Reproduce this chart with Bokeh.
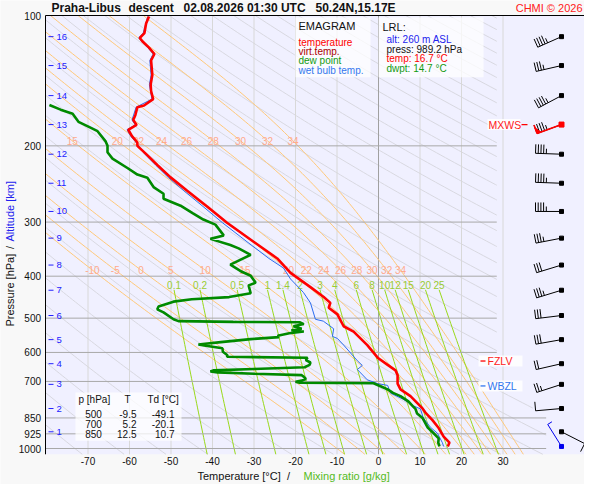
import numpy as np
from bokeh.plotting import figure
from bokeh.models import Range1d, ColumnDataSource
from bokeh.core.properties import value
from bokeh.embed import file_html
from bokeh.resources import INLINE

# ---------------- data ----------------
temperature = [(100.5, -55.3), (104.4, -56.0), (109.8, -56.4), (112.7, -57.5), (114.7, -56.9), (118.6, -55.3),
               (122.7, -54.0), (127.0, -54.8), (137.2, -54.5), (144.4, -54.9), (149.4, -54.8), (156.0, -54.3),
               (161.4, -56.5), (162.8, -58.1), (169.9, -58.6), (174.3, -59.1), (178.9, -58.3), (183.6, -60.3),
               (190.0, -59.4), (196.5, -58.1), (200.0, -58.1), (208.5, -56.1), (221.5, -53.3), (236.5, -50.1),
               (254.0, -46.1), (276.0, -41.3), (301.0, -36.5), (333.0, -30.1), (364.0, -24.4), (393.0, -21.2),
               (403.0, -19.6), (424.0, -16.4), (447.0, -13.2), (461.0, -11.6), (473.0, -12.0), (490.0, -9.9),
               (522.0, -8.4), (537.0, -6.0), (577.0, -2.7), (617.0, -0.2), (641.0, 2.2), (660.0, 4.1),
               (677.0, 4.6), (708.0, 4.6), (730.0, 5.3), (757.0, 7.7), (808.0, 10.6), (826.0, 11.3),
               (860.0, 13.0), (897.0, 14.5), (939.0, 15.7), (969.0, 17.1), (989.2, 16.7)]

dewpoint = [(161, -79.3), (165, -76.6), (168.7, -73.7), (176, -72.3), (180.6, -69.9), (185, -67.7), (195, -65.8),
            (200, -65.3), (207, -65.3), (214, -64.1), (225, -60.5), (233, -58.1), (237, -55.7), (249, -54.2),
            (258, -51.8), (265, -51.8), (275, -47.7), (286, -44.8), (296, -42.2), (304, -39.3), (322, -37.3),
            (328, -40.5), (339, -35.7), (345, -33.7), (357, -30.8), (376, -35.7), (389, -33.3), (399, -30.8),
            (414, -29.6), (420, -31.3), (438, -30.8), (447, -36.0), (452, -45.0), (458, -49.4), (470, -53.0),
            (477, -53.3), (485, -51.8), (503, -49.4), (508, -48.2), (510, -35.0), (511, -19.0), (516, -18.0),
            (522, -20.5), (529, -18.5), (533, -21.0), (537, -18.0), (542, -21.5), (549, -24.3), (553, -24.0),
            (559, -30.8), (568, -38.0), (575, -43.4), (578, -42.0), (587, -37.6), (598, -37.5), (609, -36.4),
            (614, -36.5), (617, -17.1), (625, -17.5), (633, -16.4), (641, -16.6), (649, -17.8), (655, -30.0),
            (660, -39.8), (664, -40.5), (667, -38.8), (672, -30.0), (677, -18.5), (683, -18.0), (691, -17.5),
            (697, -18.5), (701, -20.0), (705, -19.0), (706, -10.0), (707, -1.2), (718, 0.5), (730, 2.2),
            (744, 3.5), (757, 5.3), (778, 7.2), (797, 8.2), (810, 8.9), (830, 9.3), (850, 10.6), (893, 11.8),
            (922, 13.3), (948, 14.5), (970, 14.4), (989.2, 14.7)]

wetbulb = [(100.5, -55.6), (109.8, -56.7), (112.7, -57.8), (118.6, -55.6), (122.7, -54.3), (127.0, -55.1),
           (137.2, -54.8), (144.4, -55.2), (156.0, -54.6), (162.8, -58.4), (174.3, -59.4), (178.9, -58.6),
           (183.6, -60.6), (190.0, -59.7), (196.5, -58.4), (208.5, -56.4), (221.5, -53.7), (236.5, -50.7),
           (254.0, -46.9), (276.0, -42.3), (301.0, -37.6), (333.0, -31.7), (364.0, -26.4), (383.0, -22.9),
           (406.0, -21.2), (436.0, -18.1), (461.0, -16.4), (503.0, -15.2), (508.0, -13.3), (529.0, -10.8),
           (551.0, -11.1), (557.0, -9.9), (577.0, -8.4), (627.0, -5.1), (643.0, -3.9), (657.0, -5.1),
           (694.0, -2.7), (708.0, -0.2), (715.0, 2.2), (745.0, 2.9), (770.0, 6.0), (797.0, 8.4),
           (810.0, 10.1), (850.0, 10.8), (893.0, 12.5), (922.0, 14.2), (970.0, 15.4), (989.2, 15.7)]

p_ticks = [100, 200, 300, 400, 500, 600, 700, 850, 925, 1000]
isobars = [200, 300, 400, 500, 600, 700, 850, 925, 1000]
t_ticks = [-70, -60, -50, -40, -30, -20, -10, 0, 10, 20, 30]
dry_theta_K = [190 + 10 * i for i in range(45)]
moist_thw = [-10, -5, 0, 5, 10, 15, 20, 22, 24, 26, 28, 30, 32, 34]
moist_thw_upper = [15, 20, 22, 24, 26, 28, 30, 32, 34]
mixing_ratios = [0.1, 0.2, 0.5, 1, 1.4, 2, 3, 4, 6, 8, 10, 12, 15, 20, 25]

alt_km = [16, 15, 14, 13, 12, 11, 10, 9, 8, 7, 6, 5, 4, 3, 2, 1]
alt_p = [111.9, 130.5, 153.1, 178.6, 209.1, 244.0, 283.5, 326.7, 377.0, 431.0, 493.0, 560.5, 637.0, 711.0, 808.5, 915.0]
wind_dir = [246, 257, 242, 250, 272, 272, 270, 259, 253, 253, 263, 260, 257, 252, 265, 117]
wind_spd = [45, 35, 45, 45, 45, 45, 45, 35, 30, 35, 30, 30, 20, 25, 10, 10]
sfc_wind = (989.2, 328, 5)
mxws_km = 13
fzlv_p = 628.0
wbzl_p = 717.0

table_p = [500, 700, 850]
table_t = [-9.5, 5.2, 12.5]
table_td = [-49.1, -20.1, 10.7]
lrl_alt_m, lrl_p, lrl_t, lrl_td = 260, 989.2, 16.7, 14.7
title_parts = ["Praha-Libus", "descent", "02.08.2026 01:30 UTC", "50.24N,15.17E"]

# ---------------- layout helpers ----------------
FONT = "Liberation Sans"
W, H = 584, 484
XS = 4.15            # px per degree C
PPD = 433.0          # px per decade of pressure (in this figure)
Y0 = 15.0            # figure pixel row of 100 hPa


def rx(px):  # reference pixel column -> temperature
    return (px - 378.0) / 4.15


def ry(py):  # reference pixel row -> pressure
    return 100.0 * 10 ** ((py - 15.0) / 449.0)


def fy(fig_y):  # pixel row of this figure -> pressure
    return 100.0 * 10 ** ((fig_y - Y0) / PPD)


x_lo, x_hi = rx(45), rx(591)
p_top, p_bot = 100.0, ry(470)


def tmax(p):
    p = np.asarray(p, dtype=float)
    f = np.clip(np.log(p / 700.0) / np.log(850.0 / 700.0), 0, 1)
    return 28.5 + (40.4 - 28.5) * f


def clip_runs(xs, ps):
    xs = np.asarray(xs, float); ps = np.asarray(ps, float)
    hi = tmax(ps)
    d_lo = xs - x_lo          # must be >= 0
    d_hi = hi - xs            # must be >= 0
    inside = (d_lo >= 0) & (d_hi >= 0)

    def cross(a, b):
        o = b if not inside[b] else a
        d = d_lo if d_lo[o] < 0 else d_hi
        t = d[a] / (d[a] - d[b]) if d[a] != d[b] else 0.0
        return xs[a] + t * (xs[b] - xs[a]), ps[a] * (ps[b] / ps[a]) ** t

    out, cx, cp = [], [], []
    for i in range(len(xs)):
        if inside[i]:
            if not cx and i > 0:
                bx, bp = cross(i - 1, i); cx.append(bx); cp.append(bp)
            cx.append(xs[i]); cp.append(ps[i])
        else:
            if cx:
                bx, bp = cross(i - 1, i); cx.append(bx); cp.append(bp)
                if len(cx) > 1:
                    out.append(([float(v) for v in cx], [float(v) for v in cp]))
                cx, cp = [], []
    if len(cx) > 1:
        out.append(([float(v) for v in cx], [float(v) for v in cp]))
    return out


def moist_adiabat(thw):
    Rd, cp, L, eps = 287.04, 1005.7, 2.501e6, 0.622

    def f(T, lnp):
        pp = np.exp(lnp)
        tc = T - 273.15
        e = 6.112 * np.exp(17.67 * tc / (tc + 243.5))
        rs = eps * e / (pp - e)
        return (Rd * T + L * rs) / (cp + L * L * rs * eps / (Rd * T * T))

    def integ(lnps):
        T = thw + 273.15
        Ts = [T]
        for i in range(len(lnps) - 1):
            h = lnps[i + 1] - lnps[i]
            l0 = lnps[i]
            k1 = f(T, l0)
            k2 = f(T + h / 2 * k1, l0 + h / 2)
            k3 = f(T + h / 2 * k2, l0 + h / 2)
            k4 = f(T + h * k3, l0 + h)
            T = T + h / 6 * (k1 + 2 * k2 + 2 * k3 + k4)
            Ts.append(T)
        return np.array(Ts)

    up = np.linspace(np.log(1000.0), np.log(p_top), 160)
    dn = np.linspace(np.log(1000.0), np.log(p_bot), 4)
    tu = integ(up)
    td = integ(dn)
    lnp = np.concatenate([dn[::-1], up[1:]])
    T = np.concatenate([td[::-1], tu[1:]]) - 273.15
    return np.exp(lnp), T


def mixing_td(w, pr):
    e = w * pr / (622.0 + w)
    a = np.log(e / 6.112)
    return 243.5 * a / (17.67 - a)


p = figure(width=W, height=H, x_range=Range1d(rx(0), rx(W)), y_range=Range1d(fy(H), fy(0)),
           y_axis_type="log", x_axis_location=None, y_axis_location=None,
           output_backend="svg", toolbar_location=None, min_border=0,
           background_fill_color="#f8f8f8", border_fill_color="#f8f8f8", outline_line_color=None)
p.xgrid.visible = False
p.ygrid.visible = False


def txt(x, y, text, color="#111111", size="10px", align="left", style="normal", angle=0.0):
    n = len(text)
    src = ColumnDataSource(dict(x=list(x), y=list(y), text=list(text),
                                color=(list(color) if isinstance(color, list) else [color] * n),
                                align=(list(align) if isinstance(align, list) else [align] * n)))
    p.text(x="x", y="y", text="text", text_color="color", text_align="align", source=src,
           text_font=value(FONT), text_font_size=size, text_font_style=style,
           text_baseline="middle", angle=angle)


# plotting area
p.quad(left=[x_lo], right=[x_hi], top=[p_top], bottom=[p_bot], fill_color="#f0f0ff", line_color=None)

# ---- dry adiabats ----
ps = np.geomspace(p_top, p_bot, 180)
xs_l, ys_l = [], []
for th in dry_theta_K:
    for a, b in clip_runs(th * (ps / 1000.0) ** 0.2857 - 273.15, ps):
        xs_l.append(a); ys_l.append(b)
p.multi_line(xs_l, ys_l, line_color="#d8d8e0", line_width=1)

# ---- isotherms ----
p.segment(x0=t_ticks, y0=[p_top] * len(t_ticks), x1=t_ticks, y1=[p_bot] * len(t_ticks),
          line_color=["#a0a0a0" if t == 0 else "#d8d8d8" for t in t_ticks], line_width=1)

# ---- moist adiabats ----
xs_l, ys_l = [], []
lab_x, lab_y, lab_t = [], [], []
p_lab_lo, p_lab_hi = ry(279), ry(145)
for thw in moist_thw:
    mp, mt = moist_adiabat(thw)
    for a, b in clip_runs(mt, mp):
        xs_l.append(a); ys_l.append(b)
    order = np.argsort(np.log(mp))
    lab_x.append(float(np.interp(np.log(p_lab_lo), np.log(mp)[order], mt[order])))
    lab_y.append(p_lab_lo); lab_t.append(str(thw))
    if thw in moist_thw_upper:
        lab_x.append(float(np.interp(np.log(p_lab_hi), np.log(mp)[order], mt[order])))
        lab_y.append(p_lab_hi); lab_t.append(str(thw))
p.multi_line(xs_l, ys_l, line_color="#ffc878", line_width=1)

# ---- mixing ratio lines ----
pm = np.geomspace(430.0, p_bot, 40)
xs_l, ys_l, mlab_x = [], [], []
for w in mixing_ratios:
    xs_l.append([float(v) for v in mixing_td(w, pm)]); ys_l.append([float(v) for v in pm])
    mlab_x.append(float(mixing_td(w, 430.0)))
p.multi_line(xs_l, ys_l, line_color="#99d91a", line_width=1)

# ---- isobars and frame lines ----
p.segment(x0=[x_lo] * len(isobars), y0=isobars, x1=[float(v) for v in tmax(isobars)], y1=isobars,
          line_color="#a8a8a8", line_width=1)
p.segment(x0=[x_lo, x_lo], y0=[p_top, p_top], x1=[x_hi, x_lo], y1=[p_top, p_bot],
          line_color="black", line_width=1)

# labels on background lines
txt(lab_x, lab_y, lab_t, color="#ffaa8c", align="center")
txt(mlab_x, [ry(294)] * len(mlab_x), [("%g" % w) for w in mixing_ratios], color="#99cc33", align="center")

# ---- axes texts (positioned through the scales) ----
txt([rx(40.5)] * len(p_ticks), p_ticks, [str(v) for v in p_ticks], align="right")
txt(t_ticks, [ry(477)] * len(t_ticks), [str(v) for v in t_ticks], align="center")
txt([rx(197), rx(288), rx(303)], [ry(493)] * 3, ["Temperature [°C]", "/", "Mixing ratio [g/kg]"],
    color=["#111111", "#111111", "#55bb22"], align=["left", "center", "left"], size="11px")
txt([rx(9)] * 3, [fy(326), fy(247), fy(241)], ["Pressure [hPa]", "/", "Altitude [km]"],
    color=["#111111", "#111111", "#2222ee"], align=["left", "center", "left"], size="11px", angle=np.pi / 2)

# ---- title ----
txt([rx(51), rx(128), rx(183), rx(315)], [ry(7)] * 4, title_parts, size="12px", style="bold")
txt([rx(582)], [ry(7)], ["CHMI © 2026"], color="#ff2020", size="11px", align="right")

# ---- altitude labels ----
p.segment(x0=[rx(48)] * len(alt_p), y0=alt_p, x1=[rx(53)] * len(alt_p), y1=alt_p,
          line_color="#2222ff", line_width=1)
txt([rx(56)] * len(alt_p), alt_p, [str(k) for k in alt_km], color="#2222ff", size="9.5px")

# ---- profiles ----
p.line([t for _, t in wetbulb], [q for q, _ in wetbulb], line_color="#2a6cf0", line_width=1)
p.line([t for _, t in dewpoint], [q for q, _ in dewpoint], line_color="#008a00", line_width=2.6)
p.line([t for _, t in temperature], [q for q, _ in temperature], line_color="#ff0000", line_width=2.6)

# ---- wind barbs ----
x_st = rx(561)


def to_data(x0, p0, dx, dy):
    return x0 + dx / XS, p0 * 10 ** (dy / PPD)


def barb(x0, p0, d, spd, staff=26.0, blen=9.0, gap=2.7):
    ux, uy = np.sin(np.radians(d)), -np.cos(np.radians(d))
    vx, vy = -uy, ux
    segs = [(0.0, 0.0, ux * staff, uy * staff)]
    nfull = int(spd // 10)
    half = (spd % 10) >= 5
    pos = staff
    for i in range(nfull):
        segs.append((ux * pos, uy * pos, ux * pos + vx * blen, uy * pos + vy * blen))
        pos -= gap
    if half:
        segs.append((ux * pos, uy * pos, ux * pos + vx * blen * 0.55, uy * pos + vy * blen * 0.55))
    out = []
    for a, b, c, e in segs:
        xa, pa = to_data(x0, p0, a, b)
        xb, pb = to_data(x0, p0, c, e)
        out.append((float(xa), float(pa), float(xb), float(pb)))
    return out, (ux, uy, vx, vy)


bx0, by0, bx1, by1 = [], [], [], []
for pk, d, s in zip(alt_p, wind_dir, wind_spd):
    segs, _ = barb(x_st, pk, d, s)
    for a in segs:
        bx0.append(a[0]); by0.append(a[1]); bx1.append(a[2]); by1.append(a[3])
p.segment(bx0, by0, bx1, by1, line_color="black", line_width=1)
p.scatter([x_st] * len(alt_p), alt_p, marker="square", size=4, color="black")

# max wind level in red
mi = alt_km.index(mxws_km)
segs, (ux, uy, vx, vy) = barb(x_st, alt_p[mi], wind_dir[mi], wind_spd[mi])
p.segment([segs[0][0], segs[1][0]], [segs[0][1], segs[1][1]], [segs[0][2], segs[1][2]],
          [segs[0][3], segs[1][3]], line_color="#ff0000", line_width=1.6)
tipx, tipp = to_data(x_st, alt_p[mi], ux * 26, uy * 26)
ax_, ap_ = to_data(x_st, alt_p[mi], ux * 26 + vx * 6, uy * 26 + vy * 6)
bx_, bp_ = to_data(x_st, alt_p[mi], ux * 22, uy * 22)
p.patch([tipx, ax_, bx_], [tipp, ap_, bp_], fill_color="#ff0000", line_color="#ff0000")
p.scatter([x_st], [alt_p[mi]], marker="square", size=5, color="#ff0000")

# surface wind (blue)
segs, _ = barb(x_st, sfc_wind[0], sfc_wind[1], sfc_wind[2])
p.segment([s[0] for s in segs], [s[1] for s in segs], [s[2] for s in segs], [s[3] for s in segs],
          line_color="#0000ee", line_width=1)
p.scatter([x_st], [sfc_wind[0]], marker="square", size=4, color="#0000ee")


# ---- level markers ----
def pbox(pc, half_px):
    return pc * 10 ** (-half_px / PPD), pc * 10 ** (half_px / PPD)


mx_p = alt_p[mi]
boxes = [(rx(487), rx(520), mx_p), (rx(478), rx(522), fzlv_p), (rx(478), rx(522), wbzl_p)]
p.quad(left=[b[0] for b in boxes], right=[b[1] for b in boxes],
       top=[pbox(b[2], 5.5)[0] for b in boxes], bottom=[pbox(b[2], 5.5)[1] for b in boxes],
       fill_color="white", fill_alpha=0.85, line_color=None)
p.segment(x0=[rx(521), rx(480), rx(480)], y0=[mx_p, fzlv_p, wbzl_p], x1=[rx(527), rx(485), rx(485)],
          y1=[mx_p, fzlv_p, wbzl_p], line_color=["#ff0000", "#ff0000", "#3377ee"], line_width=1.3)
txt([rx(488), rx(487), rx(487)], [mx_p, fzlv_p, wbzl_p], ["MXWS", "FZLV", "WBZL"],
    color=["#ff2020", "#ff2020", "#3377ee"], size="10.5px")

# ---- info boxes ----
p.quad(left=[rx(295), rx(378), rx(75)], right=[rx(370), rx(483), rx(181)],
       top=[ry(17), ry(17), ry(406)], bottom=[ry(79), ry(79), ry(456)],
       fill_color="white", fill_alpha=0.75, line_color=None)

txt([rx(298)], [ry(26)], ["EMAGRAM"], size="11px")
txt([rx(298)] * 4, [ry(42.5), ry(52.5), ry(62), ry(72)],
    ["temperature", "virt.temp.", "dew point", "wet bulb temp."],
    color=["#ff0000", "#aa0000", "#119911", "#3377ee"])
txt([rx(382)], [ry(27)], ["LRL:"], size="11px")
txt([rx(386)] * 4, [ry(40), ry(50), ry(60), ry(70)],
    ["alt: %d m ASL" % lrl_alt_m, "press: %.1f hPa" % lrl_p, "temp: %.1f °C" % lrl_t, "dwpt: %.1f °C" % lrl_td],
    color=["#2222ee", "#111111", "#ff0000", "#119911"])

row_y = [ry(428), ry(439), ry(449)]
txt([rx(78), rx(127), rx(147)], [ry(413)] * 3, ["p [hPa]", "T", "Td [°C]"], align=["left", "center", "left"])
txt([rx(93)] * 3, row_y, [str(v) for v in table_p], align="center")
txt([rx(136)] * 3 + [rx(174)] * 3, row_y + row_y,
    ["%.1f" % v for v in table_t] + ["%.1f" % v for v in table_td], align="right")

open("out.html", "w", encoding="utf-8").write(file_html(p, INLINE))
